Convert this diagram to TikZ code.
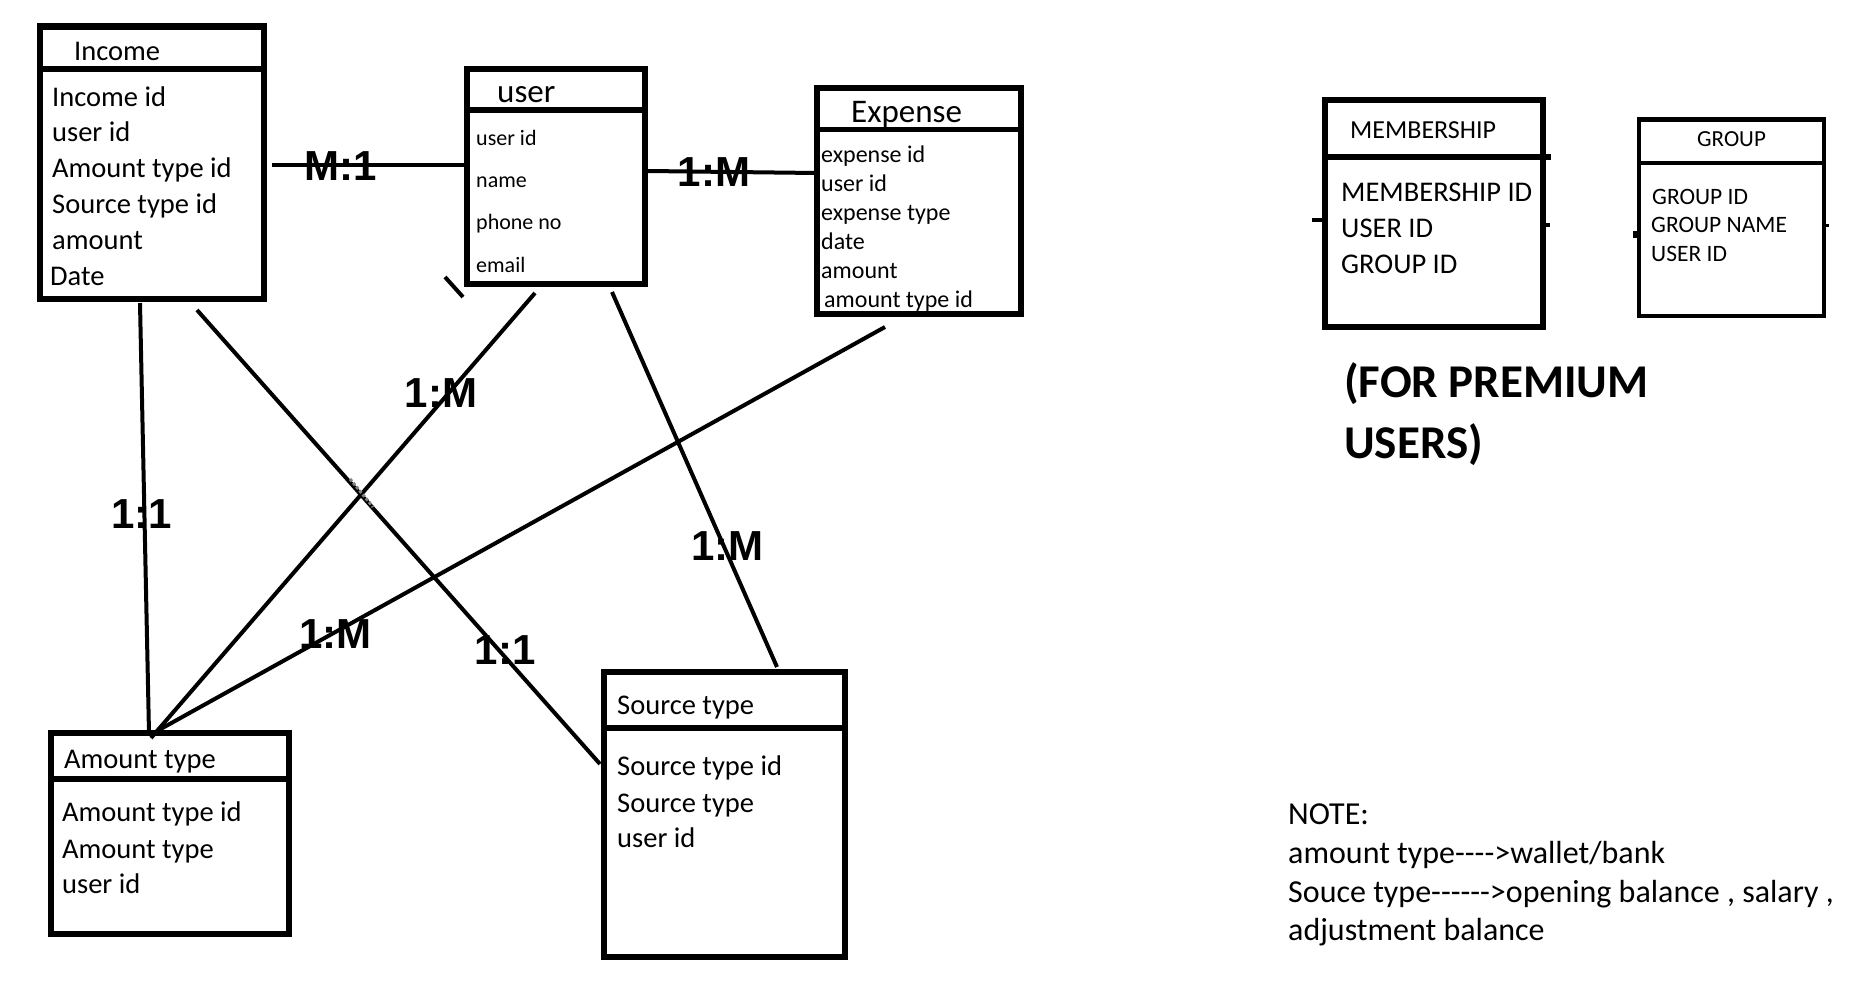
\documentclass[tikz,border=0pt]{standalone}
\usepackage{fontspec}
\setmainfont{Carlito}
\newfontfamily\notefont{Carlito}[Ligatures=TeXOff]
\newfontfamily\relfont{Liberation Sans}
\usetikzlibrary{calc}

\newcommand\fsz[1]{\fontsize{#1}{#1}\selectfont}

\tikzset{
    tbl/.style={line width=5.5pt},
    rel/.style={line width=4pt},
    fld/.style={anchor=base west, inner sep=0pt},
    big/.style={fld, font=\fsz{28.5}},
    hdr/.style={fld, font=\fsz{33}},
    usr/.style={fld, font=\fsz{22}},
    expf/.style={fld, font=\fsz{24}},
    grp/.style={fld, font=\fsz{23.5}},
    note/.style={fld, font=\notefont\fsz{32}},
    card/.style={font=\relfont\bfseries\fsz{42}, inner sep=0pt, text height=30pt, text depth=0pt},
}

\begin{document}
\begin{tikzpicture}[x=1pt, y=-1pt]

        \useasboundingbox (0,0) rectangle (1856,994);

        % Income
        \draw[tbl] (40,27) rectangle (264,299);
        \draw[line width=7pt] (37,26.5) -- (267,26.5);
        \draw[tbl] (40,69) -- (264,69);
        \node[big] (inc-title) at (74,60) {Income};
        \node[big] (inc-id) at (52,106) {Income id};
        \node[big] (inc-user) at (52,141) {user id};
        \node[big] (inc-amt) at (52,177) {Amount type id};
        \node[big] (inc-src) at (52,213) {Source type id};
        \node[big] (inc-amount) at (52,249) {amount};
        \node[big] (inc-date) at (50,285) {Date};

        % user
        \draw[tbl] (467,69) rectangle (645,284);
        \draw[tbl] (467,110) -- (645,110);
        \node[hdr] (usr-title) at (497,102) {user};
        \node[usr] (usr-id) at (476,145) {user id};
        \node[usr] (usr-name) at (476,187) {name};
        \node[usr] (usr-phone) at (476,229) {phone no};
        \node[usr] (usr-email) at (476,272) {email};
        \draw[rel] (445,277) -- (463,297);

        % Expense
        \draw[tbl] (817,88) rectangle (1021,314);
        \draw[tbl] (817,129.5) -- (1021,129.5);
        \node[hdr] (exp-title) at (851,122) {Expense};
        \node[expf] (exp-id) at (821,162) {expense id};
        \node[expf] (exp-user) at (821,191) {user id};
        \node[expf] (exp-type) at (821,220) {expense type};
        \node[expf] (exp-date) at (821,249) {date};
        \node[expf] (exp-amount) at (821,278) {amount};
        \node[expf] (exp-amt) at (824,307) {amount type id};

        % MEMBERSHIP
        \draw[tbl] (1325,100) rectangle (1543,327);
        \draw[tbl] (1325,157) -- (1551,157);
        \node[fld, font=\fsz{26}] (mem-title) at (1350,138) {MEMBERSHIP};
        \node[big] (mem-id) at (1341,201) {MEMBERSHIP ID};
        \node[big] (mem-user) at (1341,237) {USER ID};
        \node[big] (mem-group) at (1341,273) {GROUP ID};
        \draw[rel] (1312,220) -- (1323,220);
        \draw[rel] (1543,225) -- (1550,225);

        % GROUP
        \draw[line width=3.5pt] (1639,120) rectangle (1824,316);
        \draw[line width=5pt] (1637,119.5) -- (1826,119.5);
        \draw[line width=4.5pt] (1639,163) -- (1824,163);
        \node[fld, font=\fsz{23}] (grp-title) at (1697,146) {GROUP};
        \node[grp] (grp-id) at (1652,204) {GROUP ID};
        \node[grp] (grp-name) at (1651,232) {GROUP NAME};
        \node[grp] (grp-user) at (1651,261) {USER ID};
        \fill (1633,231) rectangle (1641,238);
        \draw[line width=3pt] (1824,225) -- (1829,225);

        \node[fld, font=\bfseries\fsz{47}] (premium1) at (1344,397) {(FOR PREMIUM};
        \node[fld, font=\bfseries\fsz{47}] (premium2) at (1344,458) {USERS)};

        % Amount type
        \draw[tbl] (51,733) rectangle (289,934);
        \draw[tbl] (51,779) -- (289,779);
        \node[big] (amt-title) at (64,768) {Amount type};
        \node[big] (amt-id) at (62,821) {Amount type id};
        \node[big] (amt-type) at (62,858) {Amount type};
        \node[big] (amt-user) at (62,893) {user id};

        % Source type
        \draw[tbl] (604,672) rectangle (845,957);
        \draw[tbl] (604,728) -- (845,728);
        \node[big] (src-title) at (617,714) {Source type};
        \node[big] (src-id) at (617,775) {Source type id};
        \node[big] (src-type) at (617,812) {Source type};
        \node[big] (src-user) at (617,847) {user id};

        % note
        \node[note] (note1) at (1288,824) {NOTE:};
        \node[note] (note2) at (1288,863) {amount type---->wallet/bank};
        \node[note] (note3) at (1288,902) {Souce type------>opening balance , salary ,};
        \node[note] (note4) at (1288,940) {adjustment balance};

        % connector ends
        \coordinate (inc-r) at (272,165);
        \coordinate (usr-l) at (467,165);
        \coordinate (usr-r) at (648,171);
        \coordinate (exp-l) at (817,173);
        \coordinate (inc-b1) at (140,303);
        \coordinate (inc-b2) at (197,310);
        \coordinate (usr-b1) at (535,293);
        \coordinate (usr-b2) at (612,292);
        \coordinate (exp-b) at (885,327);
        \coordinate (amt-t1) at (149,733);
        \coordinate (amt-t2) at (151,738);
        \coordinate (amt-t3) at (157,731);
        \coordinate (src-t) at (777,667);
        \coordinate (src-l) at (600,764);

        % relations
        \draw[rel] (inc-r) -- node[card, pos=0.35] {M:1} (usr-l);
        \draw[rel] (usr-r) -- node[card, pos=0.39] {1:M} (exp-l);
        \draw[rel] (inc-b1) -- node[card, pos=0.49, xshift=-3] {1:1} (amt-t1);
        \draw[rel] (usr-b1) -- node[card, pos=0.224, xshift=-8] {1:M} (amt-t2);
        \draw[rel] (exp-b) -- node[card, pos=0.758, xshift=2] {1:M} (amt-t3);
        \draw[rel] (inc-b2) -- node[card, pos=0.747, xshift=7] {1:1} (src-l);
        \draw[rel] (usr-b2) -- node[card, pos=0.675, xshift=4] {1:M} (src-t);

        \draw[gray, line width=3pt, dotted] (350,479) -- (373,507);

\end{tikzpicture}
\end{document}
